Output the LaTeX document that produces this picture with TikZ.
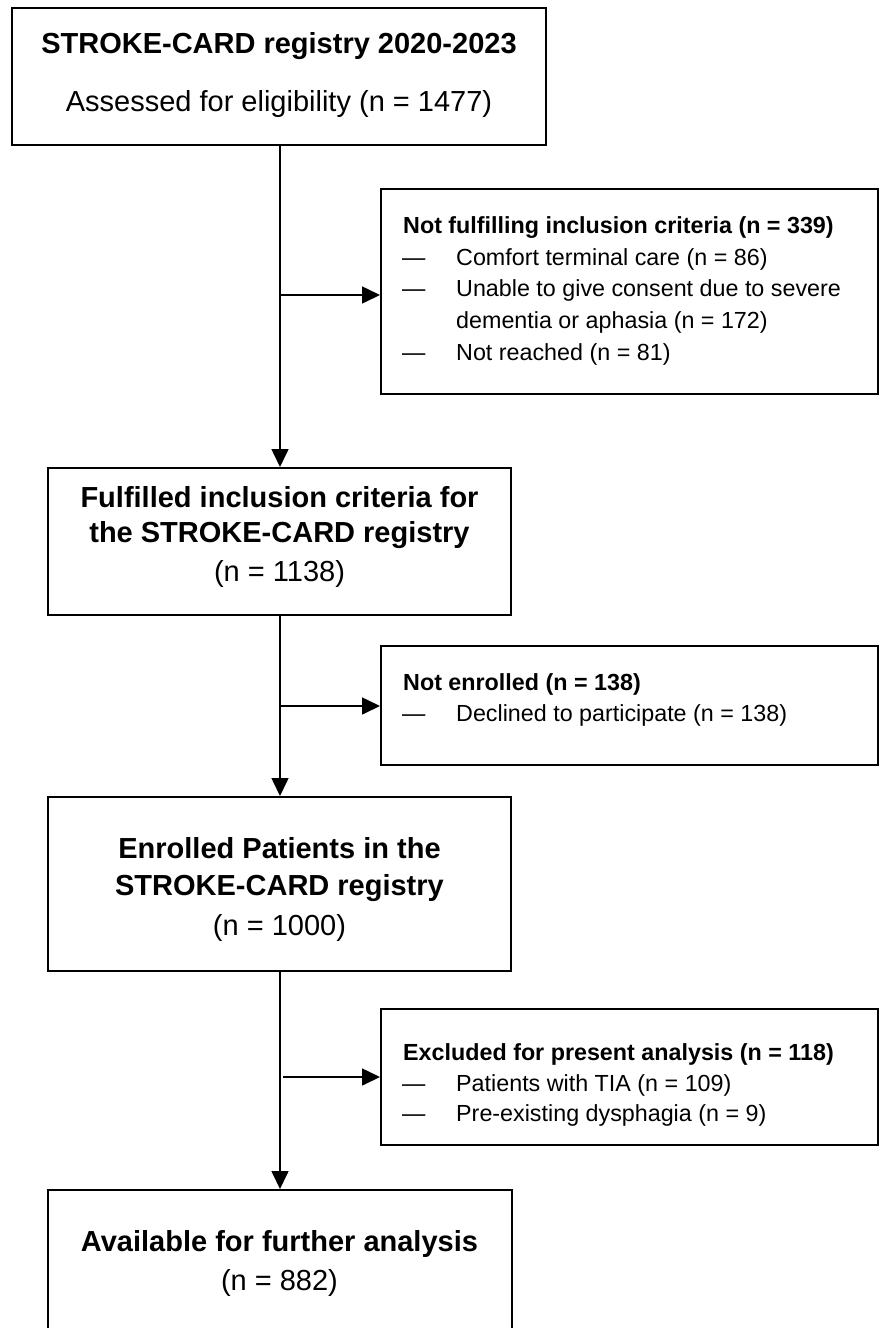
\documentclass[tikz,border=0pt]{standalone}
\usepackage{fontspec}
\setmainfont{Liberation Sans}
\usetikzlibrary{arrows.meta}
\begin{document}
\begin{tikzpicture}[x=1pt,y=-1pt,
  box/.style={draw, line width=2pt, inner sep=0pt, fill=none},
  arr/.style={line width=1.6pt, -{Triangle[length=18pt,width=17pt]}},
  bigb/.style={font=\fontsize{29}{35}\selectfont\bfseries, anchor=base, inner sep=0pt},
  bigr/.style={font=\fontsize{29}{35}\selectfont, anchor=base, inner sep=0pt},
  smb/.style={font=\fontsize{23.3}{28}\selectfont\bfseries, anchor=base west, inner sep=0pt},
  smr/.style={font=\fontsize{23.3}{28}\selectfont, anchor=base west, inner sep=0pt}]
\useasboundingbox (0,0) rectangle (881,1328);
\clip (0,0) rectangle (881,1328);
\fill[white] (0,0) rectangle (881,1328);

% main boxes
\node[box, minimum width=534pt, minimum height=137pt] (b1) at (279,76.5) {};
\node[box, minimum width=463pt, minimum height=147pt] (b2) at (279.5,541.5) {};
\node[box, minimum width=463pt, minimum height=174pt] (b3) at (279.5,884) {};
\node[box, minimum width=464pt, minimum height=155pt] (b4) at (279.5,1267.5) {};
% side boxes
\node[box, minimum width=497pt, minimum height=205pt] (r1) at (629.5,291.5) {};
\node[box, minimum width=497pt, minimum height=119pt] (r2) at (629.5,705.5) {};
\node[box, minimum width=497pt, minimum height=136pt] (r3) at (629.5,1077) {};

% main texts
\node[bigb] (t11) at (279,53) {STROKE-CARD registry 2020-2023};
\node[bigr] (t12) at (279,111) {Assessed for eligibility (n = 1477)};
\node[bigb] (t21) at (279.5,507) {Fulfilled inclusion criteria for};
\node[bigb] (t22) at (279.5,542) {the STROKE-CARD registry};
\node[bigr] (t23) at (279.5,581) {(n = 1138)};
\node[bigb] (t31) at (279.5,858) {Enrolled Patients in the};
\node[bigb] (t32) at (279.5,895) {STROKE-CARD registry};
\node[bigr] (t33) at (279.5,935) {(n = 1000)};
\node[bigb] (t41) at (279.5,1251) {Available for further analysis};
\node[bigr] (t42) at (279.5,1290) {(n = 882)};

% side texts
\node[smb] (s10) at (403,233) {Not fulfilling inclusion criteria (n = 339)};
\node[smr] (d11) at (402,265) {—};
\node[smr] (s11) at (456,265) {Comfort terminal care (n = 86)};
\node[smr] (d12) at (402,296) {—};
\node[smr] (s12) at (456,296) {Unable to give consent due to severe};
\node[smr] (s12b) at (456,328) {dementia or aphasia (n = 172)};
\node[smr] (d13) at (402,360) {—};
\node[smr] (s13) at (456,360) {Not reached (n = 81)};

\node[smb] (s20) at (403,690) {Not enrolled (n = 138)};
\node[smr] (d21) at (402,721) {—};
\node[smr] (s21) at (456,721) {Declined to participate (n = 138)};

\node[smb] (s30) at (403,1060) {Excluded for present analysis (n = 118)};
\node[smr] (d31) at (402,1091) {—};
\node[smr] (s31) at (456,1091) {Patients with TIA (n = 109)};
\node[smr] (d32) at (402,1121) {—};
\node[smr] (s32) at (456,1121) {Pre-existing dysphagia (n = 9)};

% connectors
\draw[arr] (b1.south -| 280,0) -- (b2.north -| 280,0);
\draw[arr] (b2.south -| 280,0) -- (b3.north -| 280,0);
\draw[arr] (b3.south -| 280,0) -- (b4.north -| 280,0);
\coordinate (j1) at (280,295);
\coordinate (j2) at (280,706);
\coordinate (j3) at (283,1077);
\draw[arr] (j1) -- (j1 -| r1.west);
\draw[arr] (j2) -- (j2 -| r2.west);
\draw[arr] (j3) -- (j3 -| r3.west);
\end{tikzpicture}
\end{document}
